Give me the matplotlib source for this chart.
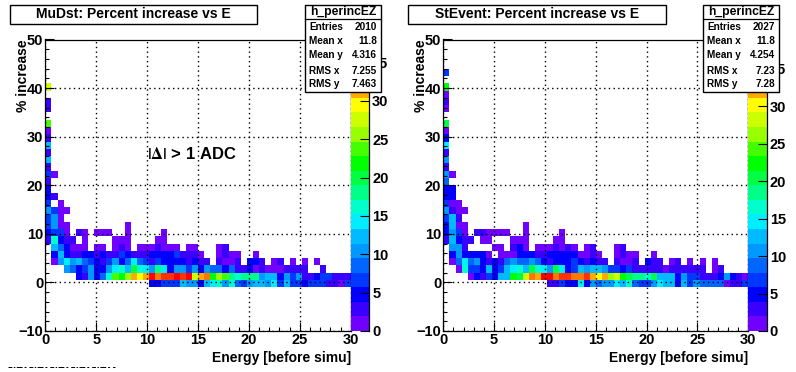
import numpy as np
import matplotlib
matplotlib.use("Agg")
import matplotlib.pyplot as plt
from matplotlib.colors import ListedColormap, BoundaryNorm
from matplotlib.patches import Rectangle
from matplotlib.ticker import MultipleLocator

plt.rcParams['font.family'] = ['Liberation Sans', 'DejaVu Sans']
plt.rcParams['font.weight'] = 'bold'
plt.rcParams['mathtext.fontset'] = 'stix'

W, H = 796, 372

energy_edges = np.linspace(0, 30, 51)
percent_edges = np.linspace(-10, 50, 41)

palette = ['#7000ff', '#3a00ff', '#0000ff', '#0038ff', '#0066ff', '#0099ff', '#00bbff',
           '#00eeff', '#00ffcc', '#00ff88', '#00ff44', '#00ff00', '#44ff00', '#99ff00',
           '#ccff00', '#ffff00', '#ffaa00', '#ff7700', '#ff3300', '#ff0000']

# MuDst counts, one list per percent-increase row, from the -1 row upward
mu_r0 = [0]*17 + [5,5,7,7,7,12,10,10,5,12,14,16,10,16,9,7,10,12,12,10,14,7,12,7,7,5,7,7,7,3,3,1,7]
mu_r1 = [0]*5 + [5,3,10,5,9,16,24,22,26,31,29,31,37,33,35,35,37,35,37,27,31,33,22,26,24,18,16,18,18,18,10,12,12,5,10,7,10,3,3,5,7,7,3,3,3]
mu_r2 = [0,0,0,10,9,5,7,10,5,5,10,14,16,12,20,16,14,10,18,14,5,10,10,7,10,5,10,9,9,5,9,3,3,5,1,3,1,1,1,3,3,3,3,0,0,3]
mu_r3 = [0,1,10,14,10,12,9,7,5,3,7,10,5,9,14,9,7,3,7,5,5,5,5,3,5,3,3,0,3,1,1,3,0,5,5,3,0,1,3,0,1,0,1,0,1]
mu_r4 = [0,5,12,5,3,3,5,5,3,5,3,3,7,5,3,3,3,5,5,5,5,7,3,3,3,1,0,0,1,3,1,1,0,0,1]
mu_r5 = [0,12,9,5,1,1,1,0,1,1,0,1,3,1,0,1,1,1,3,1,1,1,0,1,1,0,0,0,1,3]
mu_r6 = [3,16,5,3,3,0,1,0,0,0,0,1,1,1,0,0,0,0,1,1]
mu_r7 = [5,7,7,1,0,3,1,0,1,1,1,0,0,1,0,0,0,0,0,1]
mu_r8 = [7,10,1,1,0,0,0,0,0,0,0,0,0,1]
mu_r9 = [7,10,1]
mu_r10 = [10,7,1,1]
mu_r11 = [7,0,1]
mu_r12 = [5,3]
mu_r13 = [5]
mu_r14 = [3]
mu_r15 = [7,1]
mu_r16 = [3]
mu_r17 = [12]
mu_r18 = [3]
mu_r19 = [12]
mu_r20 = [3]
mu_r21 = [1]
mu_r22 = [24]
mu_r23 = [0]
mu_r24 = [3]
mu_r25 = [3]
mu_r26 = [0]
mu_r27 = [27]
mu_rows = [mu_r0,mu_r1,mu_r2,mu_r3,mu_r4,mu_r5,mu_r6,mu_r7,mu_r8,mu_r9,mu_r10,mu_r11,mu_r12,mu_r13,
           mu_r14,mu_r15,mu_r16,mu_r17,mu_r18,mu_r19,mu_r20,mu_r21,mu_r22,mu_r23,mu_r24,mu_r25,mu_r26,mu_r27]

# StEvent counts
st_r0 = [0]*17 + [3,3,7,5,5,15,5,11,9,11,11,15,13,17,9,7,7,11,15,13,13,5,13,7,11,9,9,9,9,1,3,3,7]
st_r1 = [0]*4 + [1,5,3,7,5,13,13,22,20,28,34,32,38,38,34,36,36,34,34,36,32,30,32,26,28,22,20,18,18,17,20,13,13,13,5,11,7,7,3,3,3,5,11,5,3,1]
st_r2 = [0,0,1,17,7,7,5,13,5,7,13,15,17,13,20,17,15,11,20,15,5,7,13,11,13,13,11,7,7,5,7,3,3,3,3,3,1,3,3,3,3,3,3,0,1,3]
st_r3 = [0,1,9,15,9,11,5,3,5,3,9,11,9,9,11,9,5,3,5,5,5,7,5,3,5,3,3,0,3,1,1,3,0,5,3,3,0,1,3,0,1,0,1,0,1]
st_r4 = [0,5,11,5,5,5,5,1,0,1,1,1,5,5,5,3,3,5,5,5,5,5,1,1,3,1,0,0,1,3,1,1,0,0,1]
st_r5 = [0,11,11,3,0,0,0,0,1,1,0,3,5,1,0,1,1,1,3,1,3,1,0,1,3,0,0,0,1,3]
st_r6 = [3,13,5,3,3,0,1,1,0,0,0,1,1,1,0,0,0,0,1,1]
st_r7 = [5,11,7,1,0,3,3,1,1,1,1,0,0,1,0,0,0,0,0,1]
st_r8 = [5,13,1,1,0,0,0,0,0,0,0,0,0,1]
st_r9 = [7,13,3]
st_r10 = [11,3,1,1]
st_r11 = [7,1,1]
st_r12 = [5,5]
st_r13 = [5,5]
st_r14 = [9]
st_r15 = [11,1]
st_r16 = [3]
st_r17 = [11]
st_r18 = [3]
st_r19 = [15]
st_r20 = [5]
st_r21 = [1]
st_r22 = [20]
st_r23 = [0]
st_r24 = [1]
st_r25 = [3]
st_r26 = [1]
st_r27 = [22]
st_r28 = [0]
st_r29 = [7]
st_rows = [st_r0,st_r1,st_r2,st_r3,st_r4,st_r5,st_r6,st_r7,st_r8,st_r9,st_r10,st_r11,st_r12,st_r13,st_r14,
           st_r15,st_r16,st_r17,st_r18,st_r19,st_r20,st_r21,st_r22,st_r23,st_r24,st_r25,st_r26,st_r27,st_r28,st_r29]

mu_stats = ['2010', '11.8', '4.316', '7.255', '7.463']
st_stats = ['2027', '11.8', '4.254', '7.23', '7.28']
stat_names = ['Entries', 'Mean x', 'Mean y', 'RMS x', 'RMS y']
x_ticks = [0, 5, 10, 15, 20, 25, 30]
y_ticks = [-10, 0, 10, 20, 30, 40, 50]
z_ticks = [0, 5, 10, 15, 20, 25, 30, 35]


def to_grid(rows):
    grid = np.zeros((40, 50))
    first = 6  # the -1 .. 0.5 row
    for i, row in enumerate(rows):
        grid[first + i, :len(row)] = row
    return np.ma.masked_where(grid == 0, grid)


fig = plt.figure(figsize=(W / 100, H / 100), dpi=100, facecolor='white')


def px_axes(x0, x1, y0, y1, **kw):
    return fig.add_axes([x0 / W, 1 - y1 / H, (x1 - x0) / W, (y1 - y0) / H], **kw)


def fig_text(x, y, s, **kw):
    fig.text(x / W, 1 - y / H, s, **kw)


def fig_box(x0, y0, x1, y1, zorder=5):
    fig.add_artist(Rectangle((x0 / W, 1 - y1 / H), (x1 - x0) / W, (y1 - y0) / H,
                             transform=fig.transFigure, facecolor='white',
                             edgecolor='black', linewidth=1.0, zorder=zorder))


def panel(rows, zmax, x0, x1, title, title_box, stats, stats_box):
    top, bottom = 39.5, 331
    ax = px_axes(x0, x1, top, bottom)
    cmap = ListedColormap(palette)
    norm = BoundaryNorm(np.linspace(0, zmax, 21), 20)
    ax.pcolormesh(energy_edges, percent_edges, to_grid(rows), cmap=cmap, norm=norm, zorder=1)
    ax.set_xlim(0, 30)
    ax.set_ylim(-10, 50)
    ax.set_xticks(x_ticks)
    ax.set_yticks(y_ticks)
    ax.xaxis.set_minor_locator(MultipleLocator(1))
    ax.yaxis.set_minor_locator(MultipleLocator(2))
    ax.grid(True, color='black', linestyle=(0, (1, 2.4)), linewidth=1.0, zorder=3)
    ax.set_axisbelow(False)
    ax.tick_params(which='major', direction='in', length=6.5, width=0.8, labelsize=10.5, pad=1.5, zorder=4)
    ax.tick_params(which='minor', direction='in', length=3.2, width=0.8, zorder=4)
    for s in ax.spines.values():
        s.set_linewidth(0.9)
    for lab in ax.get_xticklabels() + ax.get_yticklabels():
        lab.set_fontweight('bold')

    # colour scale beside the frame
    cax = px_axes(x1, x1 + 18.7, top, bottom)
    z_edges = np.linspace(0, zmax, 21)
    cax.pcolormesh([0, 1], z_edges, np.array(z_edges[:-1] + zmax / 40).reshape(-1, 1), cmap=cmap, norm=norm)
    cax.set_xlim(0, 1)
    cax.set_ylim(0, zmax)
    cax.set_xticks([])
    cax.yaxis.tick_right()
    cax.set_yticks(z_ticks)
    cax.tick_params(axis='y', direction='in', length=6.5, width=0.8, labelsize=10.5, pad=2)
    for lab in cax.get_yticklabels():
        lab.set_fontweight('bold')
    for side in ['top', 'left', 'bottom']:
        cax.spines[side].set_visible(False)
    cax.spines['right'].set_linewidth(0.9)

    fig_text(x0 - 22, top, '% increase', rotation=90, ha='center', va='top', fontsize=10, fontweight='bold')
    fig_text(x1, 358, 'Energy [before simu]', ha='right', va='center', fontsize=10, fontweight='bold')

    tb0, tb1 = title_box
    fig_box(tb0, 4.5, tb1, 23.5)
    fig_text((tb0 + tb1) / 2, 14.5, title, ha='center', va='center', fontsize=10, fontweight='bold', zorder=6)

    sb0, sb1 = stats_box
    fig_box(sb0, 4.5, sb1, 92)
    fig.add_artist(plt.Line2D([sb0 / W, sb1 / W], [1 - 19 / H, 1 - 19 / H], color='black', linewidth=0.9, zorder=6))
    fig_text((sb0 + sb1) / 2, 11.7, 'h_perincEZ', ha='center', va='center', fontsize=8.7, fontweight='bold', zorder=7)
    for yy, name, val in zip([27, 41, 55, 71, 84], stat_names, stats):
        fig_text(sb0 + 4, yy, name, ha='left', va='center', fontsize=7.2, fontweight='bold', zorder=7)
        fig_text(sb1 - 4, yy, val, ha='right', va='center', fontsize=7.2, fontweight='bold', zorder=7)
    return ax


panel(mu_rows, 38.0, 45.3, 350.7, 'MuDst: Percent increase vs E', (10, 257), mu_stats, (305, 381))
panel(st_rows, 38.9, 443.3, 748.3, 'StEvent: Percent increase vs E', (408, 666), st_stats, (703, 779))

fig_text(192, 154, r'$|\Delta|$ > 1 ADC', ha='center', va='center', fontsize=12, fontweight='bold', zorder=6)

# the unreadable sliver of a time stamp at the lower left corner
fig.add_artist(plt.Line2D([8 / W, 115 / W], [1 - 367.3 / H, 1 - 367.3 / H], color='black', linewidth=0.7,
                          linestyle=(0, (4, 1.5, 1.5, 1.5, 6, 2, 2, 3))))

fig.savefig('out.png', dpi=100, facecolor='white')
